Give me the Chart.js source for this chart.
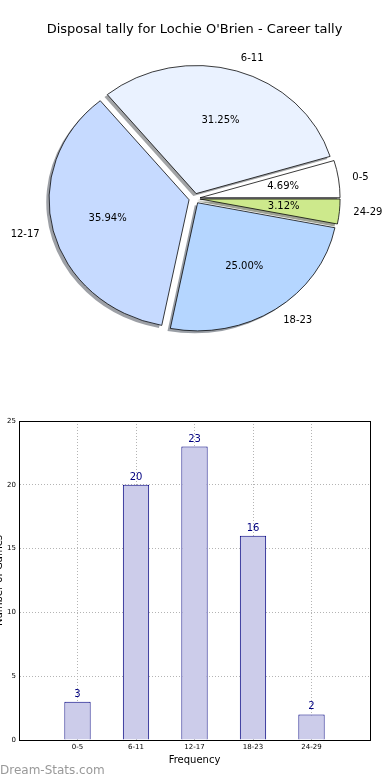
<!DOCTYPE html>
<html>
<head>
<meta charset="utf-8">
<script src="https://cdn.jsdelivr.net/npm/chart.js@4.4.1/dist/chart.umd.min.js"></script>
<style>
html,body{margin:0;padding:0;background:#fff;}
body{width:390px;height:780px;position:relative;overflow:hidden;font-family:'DejaVu Sans',sans-serif;}
#pieBox{position:absolute;left:0;top:0;width:390px;height:390px;}
#barBox{position:absolute;left:0;top:390px;width:390px;height:390px;}
#wm{position:absolute;left:0;top:762px;font-size:12px;line-height:16px;color:#999;font-family:'DejaVu Sans',sans-serif;z-index:2;}
</style>
</head>
<body>
<div id="pieBox"><canvas id="pie"></canvas></div>
<div id="barBox"><canvas id="bar"></canvas></div>
<div id="wm">Dream-Stats.com</div>
<script>
// ---- data ----
const chartTitle = "Disposal tally for Lochie O'Brien - Career tally";
const categories = ['0-5', '6-11', '12-17', '18-23', '24-29'];
const tallies = [3, 20, 23, 16, 2];
const pctLabels = ['4.69%', '31.25%', '35.94%', '25.00%', '3.12%'];
const sliceColors = ['#ffffff', '#eaf2ff', '#c6daff', '#b5d6ff', '#cde98c'];
const yTickStep = 5;
const yMax = 25;
const xAxisTitle = 'Frequency';
const yAxisTitle = 'Number of Games';

const FONT = 'DejaVu Sans';
Chart.defaults.font.family = FONT;
Chart.defaults.color = '#000';

// ---- pie ----
const SQUASH = 0.915;   // vertical / horizontal radius ratio
const EXPLODE = 0.04;   // fraction of radius
function ellipseTransform(ctx, cx, cy) {
  ctx.translate(cx, cy);
  ctx.scale(1, -SQUASH);
  ctx.translate(-cx, -cy);
}
function shadowOf(hex) {
  const n = parseInt(hex.slice(1), 16);
  const r = Math.round(((n >> 16) & 255) * 0.3), g = Math.round(((n >> 8) & 255) * 0.3), b = Math.round((n & 255) * 0.3);
  return `rgba(${r},${g},${b},0.5)`;
}
const piePlugin = {
  id: 'piePlugin',
  beforeDatasetsDraw(chart) {
    const ctx = chart.ctx;
    const arcs = chart.getDatasetMeta(0).data;
    arcs.forEach((a, i) => {
      const mid = (a.startAngle + a.endAngle) / 2, e = EXPLODE * a.outerRadius;
      ctx.save();
      ctx.translate(-2.8, 2.5);
      ellipseTransform(ctx, a.x, a.y);
      ctx.translate(Math.cos(mid) * e, Math.sin(mid) * e);
      ctx.beginPath();
      ctx.moveTo(a.x, a.y);
      ctx.arc(a.x, a.y, a.outerRadius, a.startAngle, a.endAngle);
      ctx.closePath();
      ctx.fillStyle = shadowOf(sliceColors[i]);
      ctx.fill();
      ctx.restore();
    });
    arcs.forEach((a) => {
      const mid = (a.startAngle + a.endAngle) / 2, e = EXPLODE * a.outerRadius;
      ctx.save();
      ellipseTransform(ctx, a.x, a.y);
      ctx.translate(Math.cos(mid) * e, Math.sin(mid) * e);
      a.draw(ctx);
      ctx.restore();
    });
    return false;
  },
  afterDraw(chart) {
    const ctx = chart.ctx;
    const arcs = chart.getDatasetMeta(0).data;
    ctx.save();
    ctx.fillStyle = '#000';
    ctx.font = `10px "${FONT}"`;
    ctx.textBaseline = 'middle';
    arcs.forEach((a, i) => {
      const mid = (a.startAngle + a.endAngle) / 2, R = a.outerRadius, e = EXPLODE * R;
      const pt = d => [a.x + Math.cos(mid) * d, a.y - SQUASH * Math.sin(mid) * d];
      let [px, py] = pt(e + 0.6 * R);
      ctx.textAlign = 'center';
      ctx.fillText(pctLabels[i], px, py);
      let [lx, ly] = pt(e + 1.1 * R);
      ctx.textAlign = Math.cos(mid) > 0 ? 'left' : 'right';
      ctx.fillText(chart.data.labels[i], lx, ly);
    });
    ctx.restore();
  }
};

new Chart(document.getElementById('pie'), {
  type: 'pie',
  data: {
    labels: categories,
    datasets: [{
      data: tallies,
      backgroundColor: sliceColors,
      borderColor: '#000',
      borderWidth: 0.8
    }]
  },
  options: {
    responsive: true,
    maintainAspectRatio: false,
    animation: false,
    events: [],
    rotation: 90,
    radius: 140,
    layout: { padding: { left: 0, right: 1, top: 0, bottom: 30.6 } },
    plugins: {
      legend: { display: false },
      tooltip: { enabled: false },
      title: {
        display: true,
        text: chartTitle,
        color: '#000',
        font: { family: FONT, size: 13, weight: 'normal' },
        padding: { top: 22, bottom: 0 }
      }
    }
  },
  plugins: [piePlugin]
});

// ---- bar ----
const barLabels = [''].concat(categories, ['']);
const barValues = [null].concat(tallies, [null]);

const barPlugin = {
  id: 'barPlugin',
  afterDraw(chart) {
    const ctx = chart.ctx;
    const ca = chart.chartArea;
    ctx.save();
    ctx.strokeStyle = '#000';
    ctx.lineWidth = 1;
    ctx.strokeRect(Math.round(ca.left) + 0.5, Math.round(ca.top) + 0.5, Math.round(ca.right - ca.left), Math.round(ca.bottom - ca.top));
    ctx.fillStyle = '#000080';
    ctx.font = `10px "${FONT}"`;
    ctx.textAlign = 'center';
    ctx.textBaseline = 'alphabetic';
    chart.getDatasetMeta(0).data.forEach((bar, i) => {
      const v = barValues[i];
      if (v === null) return;
      ctx.fillText(String(v), bar.x, bar.y - 5);
    });
    ctx.restore();
  }
};

new Chart(document.getElementById('bar'), {
  type: 'bar',
  data: {
    labels: barLabels,
    datasets: [{
      data: barValues,
      backgroundColor: '#ccccea',
      borderColor: '#000080',
      borderWidth: 1,
      barPercentage: 0.45,
      categoryPercentage: 1
    }]
  },
  options: {
    responsive: true,
    maintainAspectRatio: false,
    animation: false,
    events: [],
    layout: { padding: { left: 0, right: 20, top: 31, bottom: 0 } },
    plugins: { legend: { display: false }, tooltip: { enabled: false } },
    scales: {
      x: {
        type: 'category',
        offset: false,
        z: 1,
        grid: { color: '#b4b4b4', lineWidth: 1, drawTicks: false, offset: false },
        border: { display: true, color: '#000', width: 1, dash: [1, 2] },
        ticks: { font: { size: 7 }, color: '#000', padding: 3, maxRotation: 0, autoSkip: false },
        title: { display: true, text: xAxisTitle, color: '#000', font: { size: 10 }, padding: { top: 0, bottom: 14 } },
        afterFit(s) { s.height = 40; }
      },
      y: {
        min: 0,
        max: yMax,
        z: 1,
        grid: { color: '#b4b4b4', lineWidth: 1, drawTicks: false },
        border: { display: true, color: '#000', width: 1, dash: [1, 2] },
        ticks: { stepSize: yTickStep, font: { size: 7 }, color: '#000', padding: 3 },
        title: { display: true, text: yAxisTitle, color: '#000', font: { size: 10 }, padding: { top: -7, bottom: 0 } },
        afterFit(s) { s.width = 19; }
      }
    }
  },
  plugins: [barPlugin]
});
</script>
</body>
</html>
